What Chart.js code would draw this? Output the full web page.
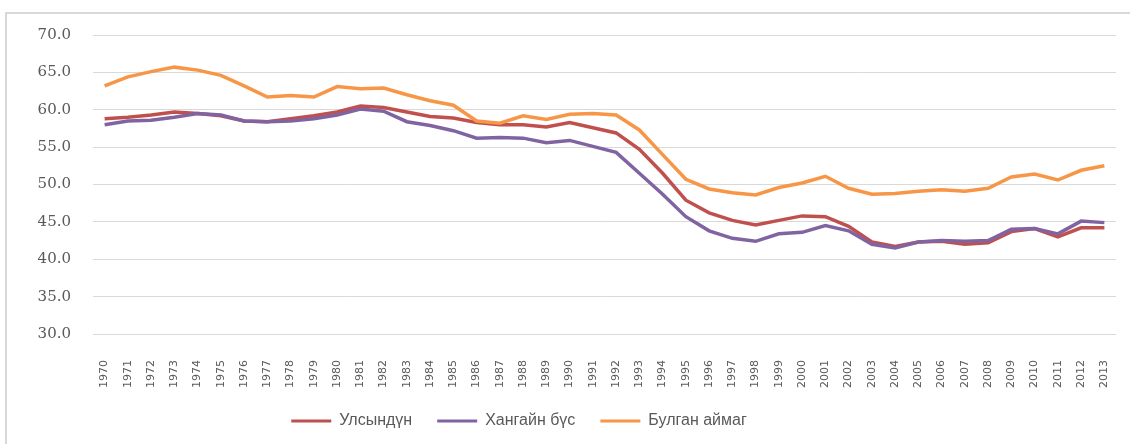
<!DOCTYPE html>
<html>
<head>
<meta charset="utf-8">
<script src="https://cdn.jsdelivr.net/npm/chart.js@4.4.1/dist/chart.umd.min.js"></script>
<style>
    html, body { margin: 0; padding: 0; background: #fff; }
    .wrap { position: relative; width: 1130px; height: 444px; overflow: hidden; }
    .frame {
        position: absolute; left: 5px; top: 12px; width: 1140px; height: 460px;
        border-left: 2px solid #d9d9d9; border-top: 2px solid #d9d9d9;
    }
    canvas { position: absolute; left: 0; top: 0; }
</style>
</head>
<body>
<div class="wrap">
    <div class="frame"></div>
    <canvas id="chart" width="1130" height="444"></canvas>
</div>
<script>
// Дата
const years = [];
for (let y = 1970; y <= 2013; y++) years.push(String(y));

const ulsynDun = [58.8, 59.0, 59.3, 59.7, 59.5, 59.2, 58.5, 58.4, 58.8, 59.2,
    59.7, 60.5, 60.3, 59.7, 59.1, 58.9, 58.3, 58.0, 58.0, 57.7,
    58.3, 57.6, 56.9, 54.7, 51.5, 47.9, 46.2, 45.2, 44.6, 45.2,
    45.8, 45.7, 44.4, 42.3, 41.7, 42.3, 42.4, 42.0, 42.2, 43.7,
    44.1, 43.0, 44.2, 44.2];

const khangaiBus = [58.0, 58.5, 58.6, 59.0, 59.5, 59.3, 58.5, 58.4, 58.5, 58.8,
    59.3, 60.1, 59.8, 58.4, 57.9, 57.2, 56.2, 56.3, 56.2, 55.6,
    55.9, 55.1, 54.3, 51.5, 48.7, 45.7, 43.8, 42.8, 42.4, 43.4,
    43.6, 44.5, 43.8, 42.0, 41.5, 42.3, 42.5, 42.4, 42.5, 44.0,
    44.1, 43.4, 45.1, 44.9];

const bulganAimag = [63.2, 64.4, 65.1, 65.7, 65.3, 64.6, 63.2, 61.7, 61.9, 61.7,
    63.1, 62.8, 62.9, 62.0, 61.2, 60.6, 58.5, 58.2, 59.2, 58.7,
    59.4, 59.5, 59.3, 57.3, 54.0, 50.7, 49.4, 48.9, 48.6, 49.6,
    50.2, 51.1, 49.5, 48.7, 48.8, 49.1, 49.3, 49.1, 49.5, 51.0,
    51.4, 50.6, 51.9, 52.5];

const seriesNames = ['Улсындүн', 'Хангайн бүс', 'Булган аймаг'];
const seriesColors = ['#C0504D', '#8064A2', '#F79646'];
const yMin = 30, yMax = 70, yStep = 5;

const textGray = '#595959';

function makeSet(i, data, order) {
    return {
        label: seriesNames[i],
        data: data,
        borderColor: seriesColors[i],
        backgroundColor: seriesColors[i],
        borderWidth: 3.5,
        pointRadius: 0,
        tension: 0,
        order: order
    };
}

// легенд: зураасыг нимгэн, хүрээгүй болгох
const defaultLabels = Chart.defaults.plugins.legend.labels.generateLabels;

// легендийг бага зэрэг зүүн тийш шилжүүлэх
const legendShift = {
    id: 'legendShift',
    afterLayout(chart) {
        chart.legend.left -= 39;
        chart.legend.right -= 39;
    }
};

new Chart(document.getElementById('chart'), {
    type: 'line',
    data: {
        labels: years,
        datasets: [
            makeSet(0, ulsynDun, 3),
            makeSet(1, khangaiBus, 2),
            makeSet(2, bulganAimag, 1)
        ]
    },
    options: {
        responsive: false,
        animation: false,
        layout: { padding: { top: 35, right: 14, bottom: 5, left: 0 } },
        scales: {
            x: {
                offset: true,
                grid: { display: false },
                border: { display: false },
                ticks: {
                    autoSkip: false,
                    minRotation: 90,
                    maxRotation: 90,
                    padding: 18,
                    color: textGray,
                    font: { family: 'DejaVu Sans', size: 11 }
                },
                afterFit: (axis) => {
                    axis.height = 54;
                    axis.paddingLeft = 0;
                    axis.paddingRight = 0;
                }
            },
            y: {
                min: yMin,
                max: yMax,
                grid: { color: '#d9d9d9', lineWidth: 1, drawTicks: false },
                border: { display: false },
                ticks: {
                    stepSize: yStep,
                    padding: 22,
                    color: textGray,
                    font: { family: 'DejaVu Serif', size: 15 },
                    callback: (v) => Number(v).toFixed(1)
                },
                afterFit: (axis) => { axis.width = 93; }
            }
        },
        plugins: {
            legend: {
                position: 'bottom',
                labels: {
                    boxWidth: 40,
                    boxHeight: 3,
                    padding: 25,
                    color: textGray,
                    font: { family: 'Liberation Sans', size: 16 },
                    sort: (a, b) => a.datasetIndex - b.datasetIndex,
                    generateLabels: (chart) => defaultLabels(chart).map(item => {
                        item.lineWidth = 0;
                        return item;
                    })
                }
            },
            tooltip: { enabled: false }
        }
    },
    plugins: [legendShift]
});
</script>
</body>
</html>
